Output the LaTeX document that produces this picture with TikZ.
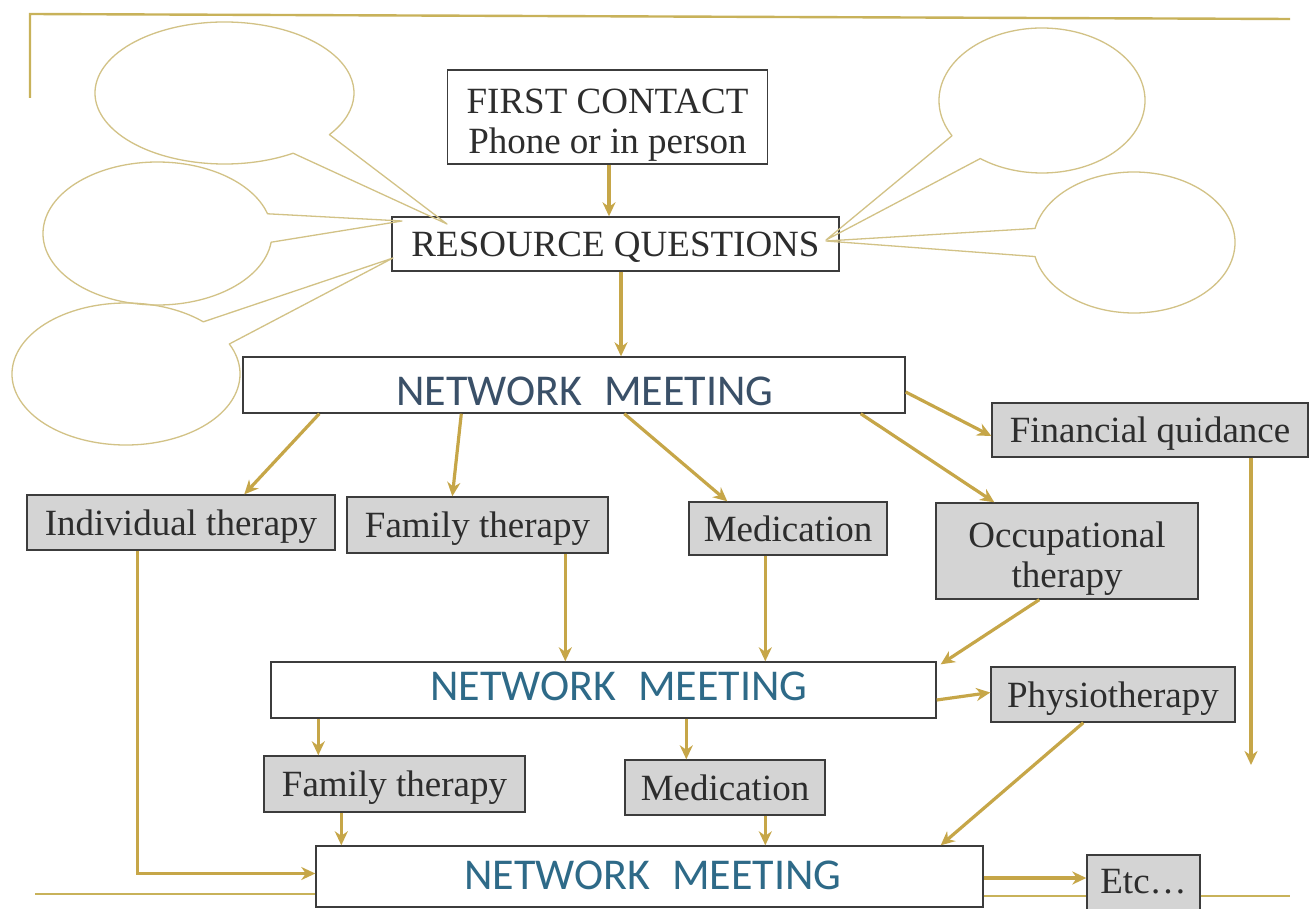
\documentclass[tikz,border=0pt]{standalone}
\usepackage{fontspec}
\setmainfont{Liberation Serif}
\newfontfamily\nmfont{Carlito}
\usetikzlibrary{arrows.meta}
\definecolor{gold}{RGB}{198,166,72}
\definecolor{bubblec}{RGB}{210,194,134}
\definecolor{framec}{RGB}{200,178,90}
\definecolor{boxfill}{RGB}{212,212,212}
\definecolor{boxline}{RGB}{60,60,60}
\definecolor{txt}{RGB}{45,45,45}
\definecolor{nmA}{RGB}{58,80,104}
\definecolor{nmB}{RGB}{46,106,136}
\begin{document}
\begin{tikzpicture}[x=1pt,y=-1pt,
  plainbox/.style={draw=boxline, line width=1.4pt, fill=white, inner sep=0pt, text=txt,
    font=\fontsize{37}{40}\selectfont, align=center, text depth=0pt},
  graybox/.style={plainbox, fill=boxfill},
  nmbox/.style={draw=boxline, line width=1.4pt, fill=white, inner sep=0pt},
  nmtext/.style={font=\nmfont\fontsize{44}{48}\selectfont, inner sep=0pt},
  arr/.style={draw=gold, line width=3.2pt, -{Stealth[length=14pt,width=13pt,inset=4.5pt]}},
  bubble/.style={draw=bubblec, line width=1.3pt, line join=round},
  framel/.style={draw=framec, line width=2.4pt}]
\fill[white] (0,0) rectangle (1311,909);
\useasboundingbox (0,0) rectangle (1311,909);

% boxes
\node[plainbox, minimum width=320pt, minimum height=94pt, text height=80.5pt, text depth=8pt] (fc) at (607.5,117) {FIRST CONTACT\\Phone or in person};
\node[plainbox, minimum width=447pt, minimum height=54pt] (rq) at (615.5,244) {RESOURCE QUESTIONS};
\node[nmbox, minimum width=662pt, minimum height=56pt] (nm1) at (574,385) {};
\node[nmtext, text=nmA] (nm1t) at (585,391) {NETWORK\hspace{22pt}MEETING};
\node[graybox, minimum width=316pt, minimum height=54pt] (fin) at (1150,430) {Financial quidance};
\node[graybox, minimum width=308pt, minimum height=55pt] (ind) at (181,522.5) {Individual therapy};
\node[graybox, minimum width=261pt, minimum height=56pt] (fam) at (477.5,525) {Family therapy};
\node[graybox, minimum width=198pt, minimum height=53pt] (med) at (788,528.5) {Medication};
\node[graybox, minimum width=262pt, minimum height=96pt, text height=81pt, text depth=8pt] (occ) at (1067,551) {Occupational\\therapy};
\node[nmbox, minimum width=665pt, minimum height=56pt] (nm2) at (603.5,690) {};
\node[nmtext, text=nmB] (nm2t) at (619,686.5) {NETWORK\hspace{22pt}MEETING};
\node[graybox, minimum width=244pt, minimum height=55pt] (phy) at (1113,694.5) {Physiotherapy};
\node[graybox, minimum width=261pt, minimum height=56pt] (ft2) at (394.5,784) {Family therapy};
\node[graybox, minimum width=200pt, minimum height=55pt] (med2) at (725,787.5) {Medication};
\node[nmbox, minimum width=667pt, minimum height=61pt] (nm3) at (649.5,876.5) {};
\node[nmtext, text=nmB] (nm3t) at (653,875) {NETWORK\hspace{22pt}MEETING};
\node[graybox, minimum width=113pt, minimum height=60pt, text depth=8pt] (etc) at (1143.5,885) {Etc\ldots};

% frame lines
\coordinate (tl) at (30,14);
\coordinate (tr) at (1290,19);
\coordinate (lb) at (30,98);
\coordinate (bl) at (35,894);
\coordinate (br) at (1290,896);
\draw[framel] (lb) -- (tl) -- (tr);
\draw[framel] (bl) -- (bl -| nm3.west);
\draw[framel] (nm3.east |- br) -- (etc.west |- br);
\draw[framel] (etc.east |- br) -- (br);

% speech bubbles
\coordinate (t1) at (447,224);
\coordinate (t2) at (402,221);
\coordinate (t3) at (393,258);
\coordinate (t4) at (826,240);
\coordinate (t5) at (826,241);
\draw[bubble] (224.5,93) ++(58:129.5 and 71) arc[start angle=58, end angle=395.9, x radius=129.5, y radius=71] -- (t1) -- cycle;
\draw[bubble] (157.5,233.5) ++(7:114.5 and 71.5) arc[start angle=7, end angle=344, x radius=114.5, y radius=71.5] -- (t2) -- cycle;
\draw[bubble] (126,374) ++(-25:114 and 71) arc[start angle=-25, end angle=312.7, x radius=114, y radius=71] -- (t3) -- cycle;
\draw[bubble] (1042,100.5) ++(150.9:103 and 72.5) arc[start angle=150.9, end angle=486.8, x radius=103, y radius=72.5] -- (t4) -- cycle;
\draw[bubble] (1134,242.5) ++(191.5:101 and 70.5) arc[start angle=191.5, end angle=528.5, x radius=101, y radius=70.5] -- (t5) -- cycle;

% arrows
\draw[arr] ([xshift=1.5pt]fc.south) -- ([xshift=-6.5pt]rq.north);
\draw[arr] ([xshift=5.5pt]rq.south) -- ([xshift=47pt]nm1.north);
\draw[arr] ([xshift=77pt]nm1.south west) -- ([xshift=218pt]ind.north west);
\draw[arr] ([xshift=219pt]nm1.south west) -- ([xshift=106pt]fam.north west);
\draw[arr] ([xshift=382pt]nm1.south west) -- ([xshift=39pt]med.north west);
\draw[arr] ([xshift=-45pt]nm1.south east) -- ([xshift=59pt]occ.north west);
\draw[arr] ([yshift=-7pt]nm1.east) -- ([yshift=-6pt]fin.west);
\coordinate (finend) at (1251,765);
\draw[arr] (fin.south -| finend) -- (finend);
\draw[arr] ([xshift=111pt]ind.south west) |- ([yshift=3pt]nm3.west);
\draw[arr] ([xshift=219pt]fam.south west) -- ([xshift=295pt]nm2.north west);
\draw[arr] ([xshift=77pt]med.south west) -- ([xshift=495pt]nm2.north west);
\draw[arr] ([xshift=104pt]occ.south west) -- ([xshift=4pt,yshift=-3pt]nm2.north east);
\draw[arr] ([yshift=-10pt]nm2.east) -- ([yshift=2pt]phy.west);
\draw[arr] ([xshift=48pt]nm2.south west) -- ([xshift=55pt]ft2.north west);
\draw[arr] ([xshift=416pt]nm2.south west) -- ([xshift=62pt]med2.north west);
\draw[arr] ([xshift=78pt]ft2.south west) -- ([xshift=26pt]nm3.north west);
\draw[arr] ([xshift=141pt]med2.south west) -- ([xshift=450pt]nm3.north west);
\draw[arr] ([xshift=93pt]phy.south west) -- ([xshift=-43pt]nm3.north east);
\draw[arr] ([yshift=-1.5pt]nm3.east) -- ([yshift=7pt]etc.west);
\end{tikzpicture}
\end{document}
